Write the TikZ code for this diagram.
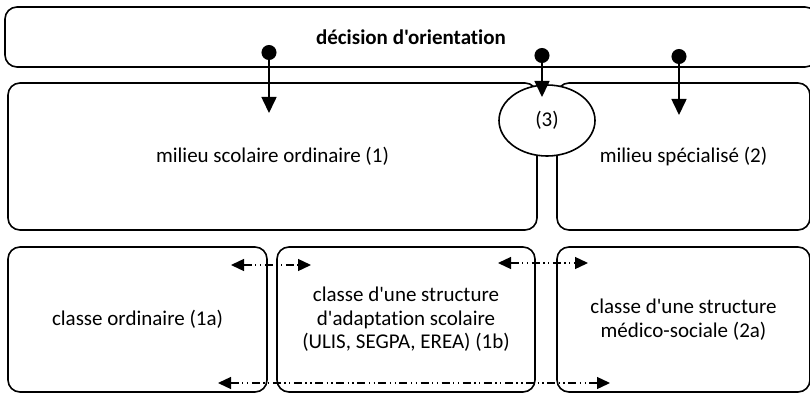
\documentclass[tikz,border=0pt]{standalone}
\usepackage{fontspec}
\setmainfont{Carlito}[Ligatures={TeXOff,NoCommon}]
\usetikzlibrary{arrows.meta}
\usetikzlibrary{shapes.geometric}
\usetikzlibrary{positioning}

\begin{document}
\begin{tikzpicture}[x=1pt,y=-1pt]

\tikzset{my-box/.style={draw, line width=1.6pt, rounded corners=12pt, inner sep=0pt,
                        font=\fontsize{21}{23.5}\selectfont, align=center},
         my-link/.style={line width=1.3pt,
                         dash pattern=on 8pt off 3.5pt on 1.3pt off 3.5pt on 1.3pt off 3.5pt,
                         {Triangle[length=13pt,width=12pt]}-{Triangle[length=13pt,width=12pt]}},
         my-pin/.style={line width=1.6pt,
                        {Circle[length=15pt,width=15pt]}-{Triangle[length=16pt,width=15pt]}}}

\path[use as bounding box] (0,0) rectangle (810,393);
\clip (0,0) rectangle (810,393);

% top row
\node (decision) [my-box, minimum width=812pt, minimum height=60pt] at (411,37)
  {\bfseries décision d'orientation};

% middle row
\node (scolaire) [my-box, minimum width=529pt, minimum height=147pt] at (272.5,156.5)
  {milieu scolaire ordinaire (1)};
\node (specialise) [my-box, minimum width=253pt, minimum height=147pt] at (683.5,156.5)
  {milieu spécialisé (2)};
\node (trois) [my-box, ellipse, fill=white, minimum width=96pt, minimum height=71pt] at (547,120.5)
  {(3)};

% bottom row
\node (ordinaire) [my-box, minimum width=259pt, minimum height=145pt] at (137.5,319.5)
  {classe ordinaire (1a)};
\node (adaptation) [my-box, minimum width=258pt, minimum height=145pt] at (406,319.5)
  {classe d'une structure\\d'adaptation scolaire\\(ULIS, SEGPA, EREA) (1b)};
\node (medico) [my-box, minimum width=253pt, minimum height=145pt] at (683.5,319.5)
  {classe d'une structure\\médico-sociale (2a)};

% pins from the decision
\coordinate (p1) at (269,45);
\coordinate (t1) at (269,113);
\coordinate (p2) at (542,48);
\coordinate (t2) at (542,97);
\coordinate (p3) at (679,49);
\coordinate (t3) at (679,115);
\draw[my-pin] (p1) -- (t1);
\draw[my-pin] (p2) -- (t2);
\draw[my-pin] (p3) -- (t3);

% passages between classes
\coordinate (a1) at (231,265);
\coordinate (b1) at (311,265);
\coordinate (a2) at (498,263);
\coordinate (b2) at (588,263);
\coordinate (a3) at (218,383);
\coordinate (b3) at (610,383);
\draw[my-link] (a1) -- (b1);
\draw[my-link] (a2) -- (b2);
\draw[my-link] (a3) -- (b3);

\end{tikzpicture}
\end{document}
